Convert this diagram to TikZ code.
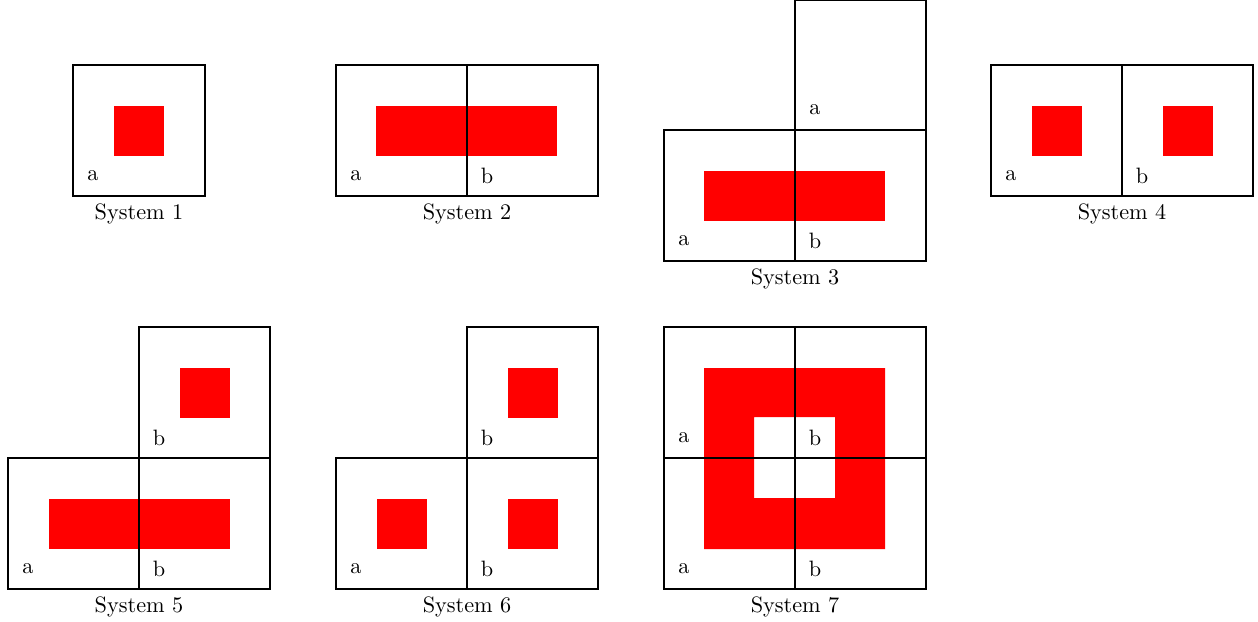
\documentclass[tikz,border=0pt]{standalone}
\begin{document}
\begin{tikzpicture}[x=0.0158cm,y=-0.0158cm,
  cell/.style={draw=black,thick},
  redfill/.style={fill=red},
  lbl/.style={inner sep=0.333em},
  captionnode/.style={below,inner sep=0.333em}]
\useasboundingbox (0,0) rectangle (1258,621);
% System 1
\fill[redfill] (114,106) rectangle (164,156);
\draw[cell] (73,65) rectangle (205,196);
\node[lbl] (s1a) at (93,176) {a};
\node[captionnode] (s1cap) at (139,196) {System 1};
% System 2
\fill[redfill] (376,106) rectangle (557,156);
\draw[cell] (336,65) rectangle (467,196);
\draw[cell] (467,65) rectangle (598,196);
\node[lbl] (s2a) at (356,176) {a};
\node[lbl] (s2b) at (487,176) {b};
\node[captionnode] (s2cap) at (467,196) {System 2};
% System 3
\fill[redfill] (704,171) rectangle (885,221);
\draw[cell] (795,-0.1) rectangle (926,130);
\draw[cell] (664,130) rectangle (795,261);
\draw[cell] (795,130) rectangle (926,261);
\node[lbl] (s3ta) at (815,110) {a};
\node[lbl] (s3a) at (684,241) {a};
\node[lbl] (s3b) at (815,241) {b};
\node[captionnode] (s3cap) at (795,261) {System 3};
% System 4
\fill[redfill] (1032,106) rectangle (1082,156);
\fill[redfill] (1163,106) rectangle (1213,156);
\draw[cell] (991,65) rectangle (1122,196);
\draw[cell] (1122,65) rectangle (1253,196);
\node[lbl] (s4a) at (1011,176) {a};
\node[lbl] (s4b) at (1142,176) {b};
\node[captionnode] (s4cap) at (1122,196) {System 4};
% System 5
\fill[redfill] (180,368) rectangle (230,418);
\fill[redfill] (49,499) rectangle (230,549);
\draw[cell] (139,327) rectangle (270,458);
\draw[cell] (8,458) rectangle (139,589);
\draw[cell] (139,458) rectangle (270,589);
\node[lbl] (s5tb) at (159,438) {b};
\node[lbl] (s5a) at (28,569) {a};
\node[lbl] (s5b) at (159,569) {b};
\node[captionnode] (s5cap) at (139,589) {System 5};
% System 6
\fill[redfill] (508,368) rectangle (558,418);
\fill[redfill] (377,499) rectangle (427,549);
\fill[redfill] (508,499) rectangle (558,549);
\draw[cell] (467,327) rectangle (598,458);
\draw[cell] (336,458) rectangle (467,589);
\draw[cell] (467,458) rectangle (598,589);
\node[lbl] (s6tb) at (487,438) {b};
\node[lbl] (s6a) at (356,569) {a};
\node[lbl] (s6b) at (487,569) {b};
\node[captionnode] (s6cap) at (467,589) {System 6};
% System 7
\fill[redfill,even odd rule] (704,368) rectangle (885,549) (754,417) rectangle (835,498);
\draw[cell] (664,327) rectangle (795,458);
\draw[cell] (795,327) rectangle (926,458);
\draw[cell] (664,458) rectangle (795,589);
\draw[cell] (795,458) rectangle (926,589);
\node[lbl] (s7ta) at (684,438) {a};
\node[lbl] (s7tb) at (815,438) {b};
\node[lbl] (s7a) at (684,569) {a};
\node[lbl] (s7b) at (815,569) {b};
\node[captionnode] (s7cap) at (795,589) {System 7};
\end{tikzpicture}
\end{document}
